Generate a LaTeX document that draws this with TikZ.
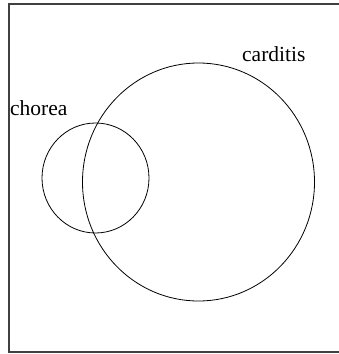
\documentclass[tikz,border=0pt]{standalone}
\usepackage{fontspec}
\setmainfont{Liberation Serif}
\usetikzlibrary{shapes.geometric}
\begin{document}
\begin{tikzpicture}[x=1pt,y=-1pt,
  setcircle/.style={draw, ellipse, inner sep=0pt, line width=0.8pt},
  setlabel/.style={inner sep=0pt, anchor=base west, font=\fontsize{21.5}{24}\selectfont},
  frame/.style={draw=black!75, line width=1.3pt}]
\useasboundingbox (0,0) rectangle (338,354);
\draw[frame] (339,4) -- (9,4) -- (9,352) -- (339,352);
\node[setcircle, minimum width=232pt, minimum height=238pt] (carditis) at (198.5,182) {};
\node[setcircle, minimum width=107pt, minimum height=110pt] (chorea) at (95.5,178) {};
\node[setlabel] (lcarditis) at (242,61) {carditis};
\node[setlabel] (lchorea) at (10,115) {chorea};
\end{tikzpicture}
\end{document}
